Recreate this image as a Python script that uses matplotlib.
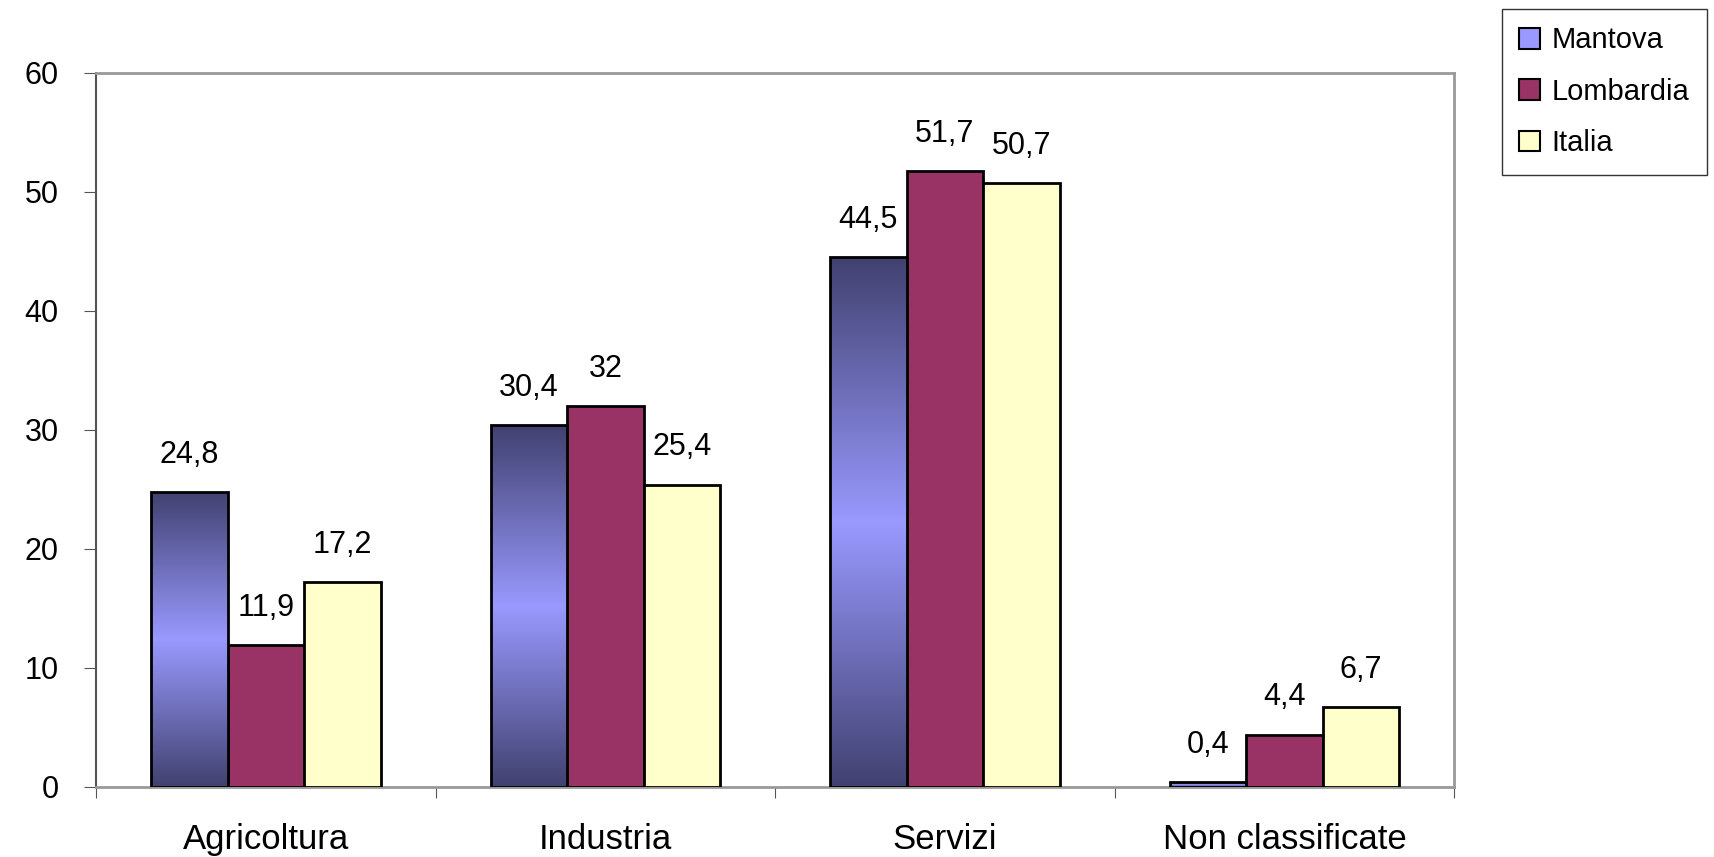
#!/usr/bin/env python3
"""Occupati per settore: Mantova, Lombardia, Italia (valori %)."""
import numpy as np
import matplotlib
matplotlib.use("Agg")
import matplotlib.pyplot as plt
from matplotlib.colors import LinearSegmentedColormap
from matplotlib.patches import Patch

categories = ["Agricoltura", "Industria", "Servizi", "Non classificate"]
series = ["Mantova", "Lombardia", "Italia"]
mantova = [24.8, 30.4, 44.5, 0.4]
lombardia = [11.9, 32.0, 51.7, 4.4]
italia = [17.2, 25.4, 50.7, 6.7]
yticks = [0, 10, 20, 30, 40, 50, 60]

plt.rcParams["font.family"] = ["Liberation Sans", "DejaVu Sans"]

fig = plt.figure(figsize=(17.15, 8.57), dpi=100)
ax = fig.add_axes([0.056, 0.0817, 0.792, 0.8335])

w = 0.2254
x = np.arange(len(categories)) + 0.5
data = [mantova, lombardia, italia]
colors = ["#9999ff", "#993366", "#ffffcc"]

# Mantova bars: dark at both ends, light in the middle
grad = LinearSegmentedColormap.from_list("g", ["#414170", "#9999ff", "#414170"])
g = np.linspace(0, 1, 256).reshape(-1, 1)

for k, (vals, c) in enumerate(zip(data, colors)):
    pos = x + (k - 1) * w
    bars = ax.bar(pos, vals, width=w, color=c, edgecolor="black", linewidth=2, zorder=3)
    if k == 0:
        for b in bars:
            x0, h = b.get_x(), b.get_height()
            im = ax.imshow(g, cmap=grad, extent=(x0, x0 + w, 0, h), aspect="auto",
                           origin="lower", zorder=3.5, interpolation="bilinear")
            im.set_clip_path(b)
            b.set_facecolor("none")
            b.set_zorder(4)
    for p, v in zip(pos, vals):
        ax.annotate(f"{v:g}".replace(".", ","), (p, v), xytext=(0, 21),
                    textcoords="offset points", ha="center", va="baseline", fontsize=22)

ax.set_xlim(0, 4)
ax.set_ylim(0, 60)
ax.set_yticks(yticks)
ax.set_yticklabels([str(t) for t in yticks], fontsize=22)
ax.set_xticks(range(5))
ax.set_xticklabels([])
ax.set_xticks(x, minor=True)
ax.set_xticklabels(categories, minor=True, fontsize=25)
ax.tick_params(axis="x", which="minor", length=0, pad=26)
ax.tick_params(axis="x", which="major", length=8, color="#555555")
ax.tick_params(axis="y", length=9, pad=18, color="#555555")

for s in ["top", "right", "bottom"]:
    ax.spines[s].set_color("#999999")
    ax.spines[s].set_linewidth(2)
ax.spines["left"].set_color("#555555")
ax.spines["left"].set_linewidth(1.5)

handles = [Patch(facecolor=c, edgecolor="black", linewidth=1.5) for c in colors]
leg = fig.legend(handles, series, loc="upper left", bbox_to_anchor=(1502 / 1715, 1 - 9 / 857),
                 fontsize=21, frameon=True, fancybox=False, edgecolor="black",
                 handlelength=0.7, handleheight=0.7, handletextpad=0.4,
                 labelspacing=0.8, borderpad=0.6, borderaxespad=0)
leg.get_frame().set_linewidth(1)

fig.savefig("out.png", dpi=100)
